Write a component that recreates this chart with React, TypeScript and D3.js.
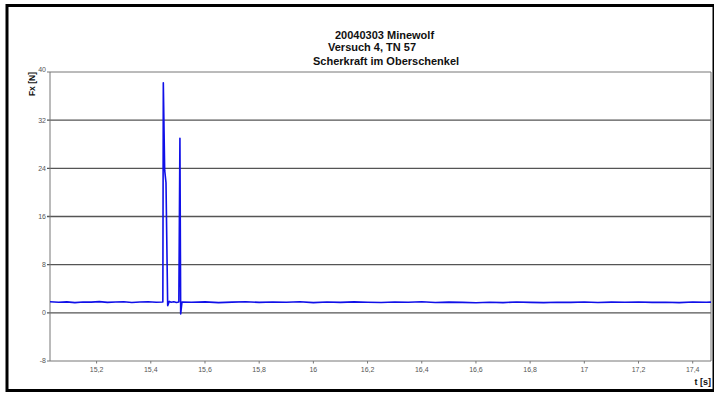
import React from 'react';
import * as d3 from 'd3';

const timeValues = [
  15.028, 15.06, 15.09, 15.12, 15.15, 15.18, 15.21, 15.24, 15.27, 15.3, 15.33, 15.36, 15.39, 15.42, 15.4445,
  15.4462, 15.4512, 15.4561, 15.4623, 15.4682,
  15.475, 15.485, 15.495, 15.5035,
  15.5075, 15.5103, 15.5151,
  15.55, 15.6, 15.65, 15.7, 15.75, 15.8, 15.85, 15.9, 15.95, 16.0, 16.05, 16.1, 16.15, 16.2, 16.25,
  16.3, 16.35, 16.4, 16.45, 16.5, 16.55, 16.6, 16.65, 16.7, 16.75, 16.8, 16.85, 16.9, 16.95, 17.0,
  17.05, 17.1, 17.15, 17.2, 17.25, 17.3, 17.35, 17.4, 17.45, 17.4675
];
const fxValues = [
  1.85, 1.75, 1.82, 1.7, 1.8, 1.78, 1.86, 1.74, 1.8, 1.83, 1.72, 1.79, 1.84, 1.76, 1.8,
  38.2, 23.7, 21.6, 1.2, 1.9,
  1.75, 1.85, 1.72, 1.8,
  29.0, -0.2, 1.8,
  1.75, 1.82, 1.7, 1.78, 1.84, 1.73, 1.8, 1.76, 1.83, 1.7, 1.79, 1.74, 1.82, 1.77, 1.71,
  1.8, 1.75, 1.83, 1.72, 1.78, 1.74, 1.68, 1.76, 1.7, 1.79, 1.73, 1.69, 1.77, 1.74, 1.8,
  1.72, 1.78, 1.75, 1.81, 1.73, 1.77, 1.7, 1.79, 1.76, 1.78
];

const xTicks = [15.2, 15.4, 15.6, 15.8, 16, 16.2, 16.4, 16.6, 16.8, 17, 17.2, 17.4];
const yTicks = [-8, 0, 8, 16, 24, 32, 40];
const titleLines = ['20040303 Minewolf', 'Versuch 4, TN 57', 'Scherkraft im Oberschenkel'];

const width = 714;
const height = 394;
const margin = { top: 72, right: 3, bottom: 33, left: 50 };

export default function App() {
  const innerRight = width - margin.right;
  const innerBottom = height - margin.bottom;

  const x = d3.scaleLinear().domain([15.028, 17.4675]).range([margin.left, innerRight]);
  const y = d3.scaleLinear().domain([-8, 40]).range([innerBottom, margin.top]);

  const points: [number, number][] = timeValues.map((t, i) => [t, fxValues[i]]);
  const line = d3.line<[number, number]>()
    .x(d => x(d[0]))
    .y(d => y(d[1]));

  const fmt = (v: number) => String(v).replace('.', ',');

  const titlePos = [
    { x: 335, y: 38.5 },
    { x: 328, y: 51 },
    { x: 313, y: 64.5 }
  ];

  return (
    <div style={{ position: 'fixed', left: 0, top: 0 }}>
      <svg width={width} height={height} style={{ display: 'block', fontFamily: '"Liberation Sans", Arial, sans-serif' }}>
        <rect x={0} y={0} width={width} height={height} fill="#fff" />
        {/* outer frame */}
        <rect x={7} y={5.5} width={707} height={385} fill="none" stroke="#000" strokeWidth={3} />

        {/* title */}
        {titleLines.map((t, i) => (
          <text key={t} x={titlePos[i].x} y={titlePos[i].y} fontSize={11} fontWeight="bold" fill="#111">
            {t}
          </text>
        ))}

        {/* grid lines */}
        {yTicks.map(v => (
          <g key={v}>
            <line x1={margin.left - 3} x2={innerRight} y1={y(v)} y2={y(v)}
              stroke={v === 40 || v === -8 ? '#777' : '#555'} strokeWidth={v === 40 || v === -8 ? 1 : 1.3} />
            <text x={margin.left - 4} y={y(v)} dy={v === 40 ? '0.05em' : '0.35em'} textAnchor="end" fontSize={7} fill="#555">
              {v}
            </text>
          </g>
        ))}

        {/* plot borders */}
        <line x1={margin.left} x2={margin.left} y1={margin.top} y2={innerBottom} stroke="#777" strokeWidth={1} />
        <line x1={innerRight} x2={innerRight} y1={margin.top} y2={innerBottom} stroke="#777" strokeWidth={1} />

        {/* x ticks */}
        {xTicks.map(v => (
          <g key={v}>
            <line x1={x(v)} x2={x(v)} y1={innerBottom} y2={innerBottom + 2.5} stroke="#777" strokeWidth={1} />
            <text x={x(v)} y={innerBottom + 11} textAnchor="middle" fontSize={7} fill="#555">
              {fmt(v)}
            </text>
          </g>
        ))}

        {/* axis labels */}
        <text transform={`translate(35,${margin.top}) rotate(-90)`} textAnchor="end" fontSize={8.5} fontWeight="bold" fill="#111">
          Fx [N]
        </text>
        <text x={711} y={385} textAnchor="end" fontSize={9} fontWeight="bold" fill="#111">
          t [s]
        </text>

        {/* signal */}
        <path d={line(points) || ''} fill="none" stroke="#1010e8" strokeWidth={1.6} strokeLinejoin="round" />
      </svg>
    </div>
  );
}
